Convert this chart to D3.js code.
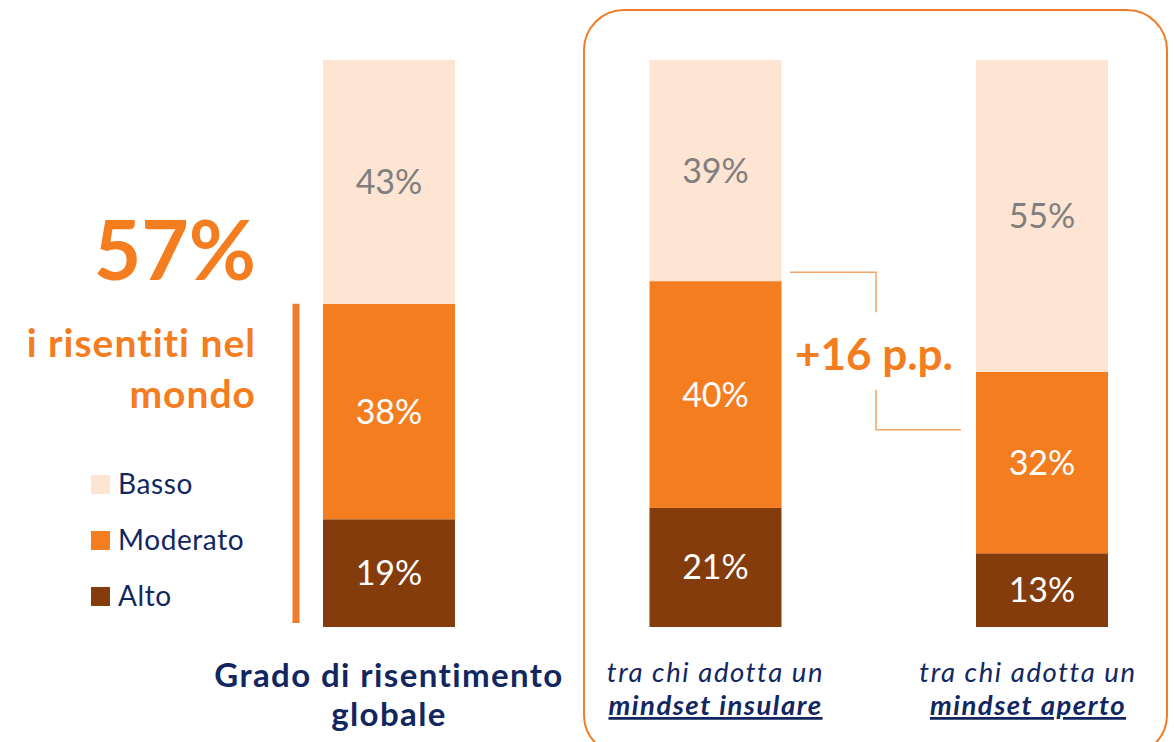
<!DOCTYPE html>
<html>
<head>
<meta charset="utf-8">
<style>
  body { margin: 0; background: #fff; }
  text { font-family: "Lato", "Noto Sans", sans-serif; }
</style>
</head>
<body>
<script src="https://cdn.jsdelivr.net/npm/d3@7"></script>
<script>
// data
var groups = ["globale", "insulare", "aperto"];
var levels = ["Alto", "Moderato", "Basso"];
var alto = [19, 21, 13];
var moderato = [38, 40, 32];
var basso = [43, 39, 55];
var legendLabels = ["Basso", "Moderato", "Alto"];
var colors = { Basso: "#fde4d3", Moderato: "#f47d20", Alto: "#843c0c" };
var labelColors = { Basso: "#7f7f7f", Moderato: "#ffffff", Alto: "#ffffff" };

var W = 1174, H = 742;
var svg = d3.select("body").append("svg").attr("width", W).attr("height", H);

var x = d3.scalePoint().domain(groups).range([389, 1042]);
var y = d3.scaleLinear().domain([0, 100]).range([627, 60]);
var barW = 132;

var rows = groups.map(function (g, i) {
  return { group: g, Alto: alto[i], Moderato: moderato[i], Basso: basso[i] };
});
var series = d3.stack().keys(levels)(rows);

// rounded box round the two right bars
svg.append("rect")
  .attr("x", 584).attr("y", 10)
  .attr("width", 583).attr("height", 745)
  .attr("rx", 40)
  .attr("fill", "none")
  .attr("stroke", "#f07d2a")
  .attr("stroke-width", 2);

// bars
var layer = svg.selectAll("g.layer").data(series).enter().append("g")
  .attr("class", "layer");
layer.selectAll("rect").data(function (s) { return s.map(function (d) { d.key = s.key; return d; }); })
  .enter().append("rect")
  .attr("x", function (d) { return x(d.data.group) - barW / 2; })
  .attr("y", function (d) { return y(d[1]); })
  .attr("width", barW)
  .attr("height", function (d) { return y(d[0]) - y(d[1]); })
  .attr("fill", function (d) { return colors[d.key]; });

layer.selectAll("text").data(function (s) { return s; })
  .enter().append("text")
  .attr("x", function (d) { return x(d.data.group); })
  .attr("y", function (d) { return (y(d[0]) + y(d[1])) / 2 + 12; })
  .attr("text-anchor", "middle")
  .attr("font-size", 34)
  .attr("fill", function (d) { return labelColors[d.key]; })
  .text(function (d) { return d.data[d.key] + "%"; });

// left side headline
svg.append("text")
  .attr("x", 256).attr("y", 280)
  .attr("text-anchor", "end")
  .attr("font-size", 82).attr("font-weight", 700)
  .attr("fill", "#f47d20")
  .text((moderato[0] + alto[0]) + "%");

svg.append("text")
  .attr("x", 256).attr("y", 357)
  .attr("text-anchor", "end")
  .attr("font-size", 39).attr("font-weight", 700)
  .attr("letter-spacing", 1)
  .attr("fill", "#f47d20")
  .text("i risentiti nel");
svg.append("text")
  .attr("x", 256).attr("y", 408)
  .attr("text-anchor", "end")
  .attr("font-size", 39).attr("font-weight", 700)
  .attr("letter-spacing", 1)
  .attr("fill", "#f47d20")
  .text("mondo");

// vertical marker next to the first bar
svg.append("line")
  .attr("x1", 296).attr("x2", 296)
  .attr("y1", y(moderato[0] + alto[0])).attr("y2", 623)
  .attr("stroke", "#f07d2a").attr("stroke-width", 7);

// legend
var leg = svg.selectAll("g.leg").data(legendLabels).enter().append("g")
  .attr("class", "leg")
  .attr("transform", function (d, i) { return "translate(91," + (475 + i * 56) + ")"; });
leg.append("rect").attr("width", 19).attr("height", 19)
  .attr("fill", function (d) { return colors[d]; });
leg.append("text").attr("x", 27).attr("y", 19)
  .attr("font-size", 28).attr("letter-spacing", 0.6).attr("fill", "#12275f")
  .text(function (d) { return d; });

// bracket with the difference
var gap = (moderato[1] + alto[1]) - (moderato[2] + alto[2]);
var yTop = y(moderato[1] + alto[1]) - 9;
var yBot = y(moderato[2] + alto[2]) + 58;
var bx = 876;
svg.append("path")
  .attr("d", "M790," + yTop + "H" + bx + "V" + (yTop + 40))
  .attr("fill", "none").attr("stroke", "#f4a268").attr("stroke-width", 1.5);
svg.append("path")
  .attr("d", "M" + bx + "," + (yBot - 40) + "V" + yBot + "H961")
  .attr("fill", "none").attr("stroke", "#f4a268").attr("stroke-width", 1.5);
svg.append("text")
  .attr("x", 874).attr("y", 370)
  .attr("text-anchor", "middle")
  .attr("font-size", 44).attr("font-weight", 700)
  .attr("fill", "#f47d20")
  .text("+" + gap + " p.p.");

// category labels
var cat = svg.append("g");
cat.append("text")
  .attr("x", x("globale")).attr("y", 687)
  .attr("text-anchor", "middle")
  .attr("font-size", 33).attr("font-weight", 700).attr("letter-spacing", 1.4)
  .attr("fill", "#12275f")
  .text("Grado di risentimento");
cat.append("text")
  .attr("x", x("globale")).attr("y", 726)
  .attr("text-anchor", "middle")
  .attr("font-size", 33).attr("font-weight", 700).attr("letter-spacing", 1.4)
  .attr("fill", "#12275f")
  .text("globale");

[["insulare", "mindset insulare", 0], ["aperto", "mindset aperto", -14]].forEach(function (p) {
  svg.append("text")
    .attr("x", x(p[0]) + p[2]).attr("y", 682)
    .attr("text-anchor", "middle")
    .attr("font-size", 27.5).attr("font-style", "italic").attr("letter-spacing", 1.6)
    .attr("fill", "#12275f")
    .text("tra chi adotta un");
  svg.append("text")
    .attr("x", x(p[0]) + p[2]).attr("y", 715)
    .attr("text-anchor", "middle")
    .attr("font-size", 27.5).attr("font-style", "italic").attr("font-weight", 700)
    .attr("letter-spacing", 1.5)
    .attr("text-decoration", "underline")
    .attr("fill", "#12275f")
    .text(p[1]);
});
</script>
</body>
</html>
